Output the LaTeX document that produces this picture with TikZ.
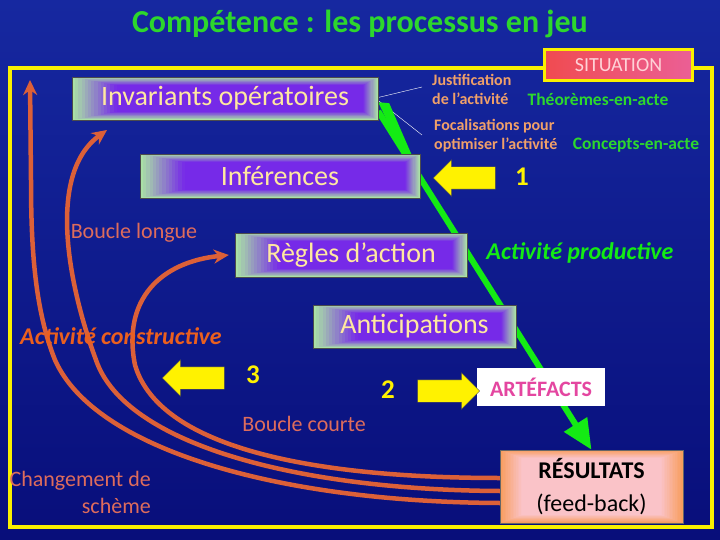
\documentclass[tikz,border=0pt]{standalone}
\usepackage{fontspec}
\setmainfont{Carlito}
\usetikzlibrary{arrows.meta}
\usetikzlibrary{shapes.arrows}

\definecolor{navy}{RGB}{8,14,122}
\definecolor{navytop}{RGB}{22,40,160}
\definecolor{framey}{RGB}{250,240,0}
\definecolor{mint}{RGB}{170,225,165}
\definecolor{vio}{RGB}{118,42,232}
\definecolor{cream}{RGB}{255,232,160}
\definecolor{titlegreen}{RGB}{45,215,45}
\definecolor{linegreen}{RGB}{20,235,20}
\definecolor{peach}{RGB}{240,160,105}
\definecolor{loopred}{RGB}{220,96,56}
\definecolor{looptext}{RGB}{222,108,92}
\definecolor{constr}{RGB}{235,95,30}
\definecolor{artpink}{RGB}{228,70,160}
\definecolor{resorange}{RGB}{248,158,95}
\definecolor{respink}{RGB}{250,195,200}
\definecolor{sitred}{RGB}{240,75,80}
\definecolor{sitpink}{RGB}{235,95,150}
\definecolor{sittext}{RGB}{255,210,215}

\pgfdeclarelayer{back}
\pgfsetlayers{back,main}

\tikzset{
  glowfill/.style n args={4}{path picture={%
    \foreach \k in {0,...,14}{%
      \pgfmathtruncatemacro{\pc}{min(100,\k*7.5)}%
      \fill[#2!\pc!#1] ([xshift=\k*#3,yshift=-\k*0.6pt]path picture bounding box.north west)
        rectangle ([xshift=-\k*#4,yshift=\k*0.6pt]path picture bounding box.south east);
    }}},
  procbox/.style={draw=black!70, thin, minimum height=43pt, inner sep=0pt,
    glowfill={mint}{vio}{3.2pt}{1.1pt}, text=cream, font=\fontsize{28}{32}\selectfont},
  note/.style={inner sep=0pt, text=peach, font=\bfseries\fontsize{16}{19}\selectfont},
  acte/.style={inner sep=0pt, text=titlegreen, font=\bfseries\fontsize{17.5}{20}\selectfont},
  looplabel/.style={inner sep=0pt, text=looptext, font=\fontsize{22}{27}\selectfont},
  activity/.style={inner sep=0pt, font=\bfseries\itshape\fontsize{24}{28}\selectfont},
  numlabel/.style={inner sep=0pt, text=yellow, font=\bfseries\fontsize{27}{30}\selectfont},
  blockarrow/.style={single arrow, fill=yellow, draw=black!70, thin, minimum height=62pt,
    minimum width=36pt, single arrow head extend=7pt, inner xsep=0pt, inner ysep=11pt},
  loopline/.style={loopred, line width=4.5pt, -{Stealth[length=15pt,width=14pt]}},
}

\begin{document}
\begin{tikzpicture}[x=1pt,y=-1pt]
  \useasboundingbox (0,0) rectangle (720,540);

  \node[font=\bfseries\fontsize{32}{36}\selectfont, text=titlegreen] (title) at (360,24) {Compétence : les processus en jeu};

  % boites du schème
  \node[procbox, minimum width=306pt] (inv) at (225,98.5) {Invariants opératoires};
  \node[procbox, minimum width=280pt, minimum height=44pt] (inf) at (280,176) {Inférences};
  \node[procbox, minimum width=232pt, minimum height=44pt] (regl) at (351,255) {Règles d’action};
  \node[procbox, minimum width=203pt] (anti) at (414.5,326.5) {Anticipations};

  \node[draw=framey, line width=3pt, left color=sitred, right color=sitpink, minimum width=148pt,
    minimum height=31pt, text=sittext, font=\fontsize{20}{22}\selectfont] (sit) at (618.5,65) {SITUATION};

  \node[fill=white, minimum width=128pt, minimum height=38pt, text=artpink,
    font=\bfseries\fontsize{22}{24}\selectfont] (arte) at (541,387) {ARTÉFACTS};
  \node[draw=black!60, thin, minimum width=183pt, minimum height=73pt, glowfill={resorange}{respink}{1.6pt}{1.6pt},
    align=center, font=\fontsize{24}{33}\selectfont] (res) at (591.5,486.5) {\textbf{RÉSULTATS}\\(feed-back)};

  % textes
  \node[note, align=left, anchor=west] (just) at (432,89.5) {Justification\\de l’activité};
  \node[acte] (theo) at (598,99) {Théorèmes-en-acte};
  \node[note, align=left, anchor=west] (foca) at (434,135.5) {Focalisations pour\\optimiser l’activité};
  \node[acte] (conc) at (636,145) {Concepts-en-acte};
  \coordinate (jtip) at (422,87);
  \coordinate (ftip) at (422,135);

  \node[blockarrow, shape border rotate=180] (a1) at (470,178) {};
  \node[numlabel] (n1) at (522,177) {1};
  \node[blockarrow, shape border rotate=180] (a3) at (199,378) {};
  \node[numlabel] (n3) at (253,375) {3};
  \node[numlabel] (n2) at (388,390) {2};
  \node[blockarrow] (a2) at (443,391) {};

  \node[activity, text=linegreen] (prod) at (580,253) {Activité productive};
  \node[looplabel] (longue) at (134,233) {Boucle longue};
  \node[looplabel] (courte) at (304,424) {Boucle courte};
  \node[looplabel, align=right, anchor=east] (chg) at (151,492) {Changement de\\schème};
  \coordinate (top) at (30,80);

  \begin{pgfonlayer}{back}
    \shade[top color=navytop, bottom color=navy] (0,0) rectangle (720,540);
    \draw[framey, line width=4pt] (10,68) rectangle (712,527);
    \draw[white, thin] ([yshift=1pt]inv.east) -- (jtip);
    \draw[white, thin] ([yshift=-2pt]inv.east) -- (ftip);
    \fill[linegreen] ([yshift=18pt]inv.south east) -- ([xshift=11pt,yshift=17pt]inv.south east)
      -- ([xshift=38pt,yshift=-45pt]inv.south east) -- ([xshift=30pt,yshift=-45pt]inv.south east) -- cycle;
    \draw[linegreen, line width=6pt, -{Triangle[length=30pt,width=26pt]}] ([yshift=9pt]inv.south east) -- (res.north);
    % boucles
    \draw[loopline] ([yshift=8.5pt]res.west) .. controls (320,478) and (160,450) .. (135,365)
      .. controls (122,300) and (160,262) .. ([xshift=-6pt]regl.west);
    \draw[loopline] ([yshift=-4.5pt]res.west) .. controls (300,490) and (125,445) .. (96,360)
      .. controls (70,290) and (45,175) .. (107,130);
    \draw[loopline] ([yshift=-16.5pt]res.west) .. controls (280,502) and (95,450) .. (55,360)
      .. controls (35,310) and (31,250) .. (31,180) -- (top);
  \end{pgfonlayer}

  \node[activity, text=constr] (constr) at (121,336) {Activité constructive};
\end{tikzpicture}
\end{document}
